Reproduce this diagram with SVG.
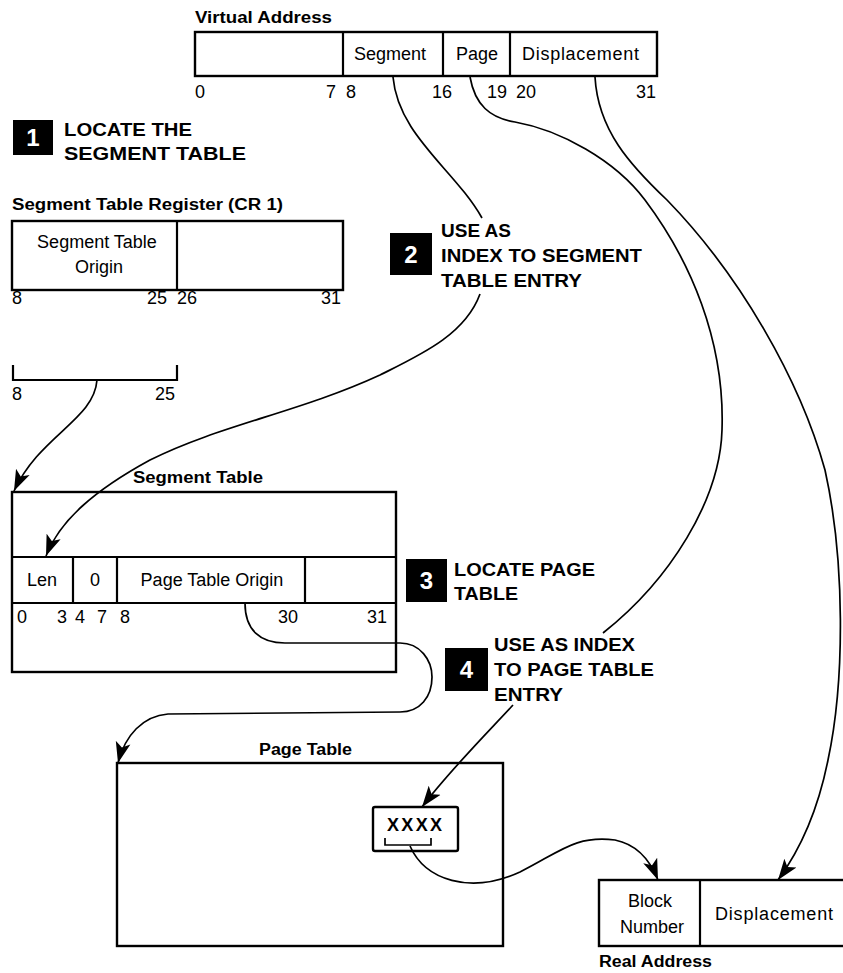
<svg xmlns="http://www.w3.org/2000/svg" width="843" height="973" viewBox="0 0 843 973">
<style>
.box{fill:#fff;stroke:#000;stroke-width:2.4}
.dv{fill:none;stroke:#000;stroke-width:2.2}
.ln{fill:none;stroke:#000;stroke-width:1.7}
.t{font-family:"Liberation Sans",Arial,sans-serif;font-size:18px;fill:#000}
.c{text-anchor:middle}
.ttl{font-family:"Liberation Sans",Arial,sans-serif;font-size:16px;font-weight:bold;fill:#000}
.st{font-family:"Liberation Sans",Arial,sans-serif;font-size:19px;font-weight:bold;fill:#000}
.num{font-family:"Liberation Sans",Arial,sans-serif;font-size:24px;font-weight:bold;fill:#fff;text-anchor:middle}
.blk{fill:#000}
</style>
<defs>
<marker id="ah" markerUnits="userSpaceOnUse" markerWidth="23" markerHeight="17" refX="21" refY="8.5" orient="auto">
<path d="M0,1 L21,8.5 L0,16 L5,8.5 z" fill="#000"/>
</marker>
</defs>

<g id="virtual-address">
<text class="ttl" x="195" y="23" textLength="137" lengthAdjust="spacingAndGlyphs">Virtual Address</text>
<rect class="box" x="195" y="32" width="462" height="44"/>
<path class="dv" d="M343 32V76M443 32V76M510 32V76"/>
<text class="t c" x="390" y="60">Segment</text>
<text class="t c" x="477" y="60">Page</text>
<text class="t" x="522" y="60" textLength="117">Displacement</text>
<text class="t" x="195" y="98">0</text>
<text class="t" x="326" y="98">7</text>
<text class="t" x="346" y="98">8</text>
<text class="t" x="432" y="98">16</text>
<text class="t" x="487" y="98">19</text>
<text class="t" x="516" y="98">20</text>
<text class="t" x="636" y="98">31</text>
</g>

<g id="step1">
<rect class="blk" x="13" y="120" width="40" height="35"/>
<text class="num" x="33" y="146">1</text>
<text class="st" x="64" y="136" textLength="128" lengthAdjust="spacingAndGlyphs">LOCATE THE</text>
<text class="st" x="64" y="160" textLength="182" lengthAdjust="spacingAndGlyphs">SEGMENT TABLE</text>
</g>

<g id="segment-table-register">
<text class="ttl" x="12" y="210" textLength="271" lengthAdjust="spacingAndGlyphs">Segment Table Register (CR 1)</text>
<rect class="box" x="12" y="221" width="331" height="69"/>
<path class="dv" d="M177 221V290"/>
<text class="t c" x="97" y="248">Segment Table</text>
<text class="t c" x="99" y="273">Origin</text>
<text class="t" x="12" y="304">8</text>
<text class="t" x="147" y="304">25</text>
<text class="t" x="177" y="304">26</text>
<text class="t" x="321" y="304">31</text>
</g>

<g id="origin-bracket">
<path class="dv" d="M13 365V380H177V365"/>
<text class="t" x="12" y="400">8</text>
<text class="t" x="155" y="400">25</text>
</g>

<g id="step2">
<rect class="blk" x="390" y="233" width="42" height="42"/>
<text class="num" x="411" y="263">2</text>
<text class="st" x="441" y="237" textLength="70" lengthAdjust="spacingAndGlyphs">USE AS</text>
<text class="st" x="441" y="262" textLength="201" lengthAdjust="spacingAndGlyphs">INDEX TO SEGMENT</text>
<text class="st" x="441" y="287" textLength="141" lengthAdjust="spacingAndGlyphs">TABLE ENTRY</text>
</g>

<g id="segment-table">
<text class="ttl" x="133" y="483" textLength="130" lengthAdjust="spacingAndGlyphs">Segment Table</text>
<rect class="box" x="12" y="492" width="384" height="180"/>
<path class="dv" d="M12 557H396M12 603H396M73 557V603M117 557V603M305 557V603"/>
<text class="t c" x="42" y="586">Len</text>
<text class="t c" x="95" y="586">0</text>
<text class="t c" x="212" y="586">Page Table Origin</text>
<text class="t" x="17" y="623">0</text>
<text class="t" x="57" y="623">3</text>
<text class="t" x="75" y="623">4</text>
<text class="t" x="97" y="623">7</text>
<text class="t" x="120" y="623">8</text>
<text class="t" x="278" y="623">30</text>
<text class="t" x="367" y="623">31</text>
</g>

<g id="step3">
<rect class="blk" x="406" y="559" width="41" height="43"/>
<text class="num" x="426.5" y="589">3</text>
<text class="st" x="454" y="576" textLength="141" lengthAdjust="spacingAndGlyphs">LOCATE PAGE</text>
<text class="st" x="454" y="600" textLength="64" lengthAdjust="spacingAndGlyphs">TABLE</text>
</g>

<g id="step4">
<rect class="blk" x="445" y="648" width="43" height="43"/>
<text class="num" x="466.5" y="678">4</text>
<text class="st" x="494" y="651" textLength="141" lengthAdjust="spacingAndGlyphs">USE AS INDEX</text>
<text class="st" x="494" y="676" textLength="160" lengthAdjust="spacingAndGlyphs">TO PAGE TABLE</text>
<text class="st" x="494" y="701" textLength="69" lengthAdjust="spacingAndGlyphs">ENTRY</text>
</g>

<g id="page-table">
<text class="ttl" x="259" y="755" textLength="93" lengthAdjust="spacingAndGlyphs">Page Table</text>
<rect class="box" x="117" y="763" width="386" height="183"/>
<rect class="box" x="373" y="807" width="85" height="44" rx="2"/>
<text class="t" x="387" y="831" font-weight="bold" textLength="55">XXXX</text>
<path class="ln" d="M385 838V845H431V838"/>
</g>

<g id="real-address">
<rect class="box" x="599" y="880" width="252" height="66"/>
<path class="dv" d="M700 880V946"/>
<text class="t c" x="650" y="907">Block</text>
<text class="t c" x="652" y="933">Number</text>
<text class="t" x="715" y="920" textLength="118">Displacement</text>
<text class="ttl" x="599" y="967" textLength="113" lengthAdjust="spacingAndGlyphs">Real Address</text>
</g>

<g id="connectors">
<path class="ln" marker-end="url(#ah)" d="M97 380C94 420 40 435 14 491"/>
<path class="ln" d="M393 77C398 135 455 170 482 218"/>
<path class="ln" marker-end="url(#ah)" d="M480 294C465 335 420 355 380 375C300 412 220 425 150 460C95 490 60 520 46 556"/>
<path class="ln" d="M470 77C475 105 490 118 515 122C560 130 615 160 645 200C690 260 725 340 722 430C720 500 670 580 603 633"/>
<path class="ln" marker-end="url(#ah)" d="M513 705C490 730 450 770 422 807"/>
<path class="ln" marker-end="url(#ah)" d="M245 603C245 630 260 643 285 643L400 643C420 643 432 660 432 677C432 697 420 712 400 712L168 714C143 716 125 735 118 763"/>
<path class="ln" marker-end="url(#ah)" d="M595 77C598 130 630 165 667 200C740 275 800 380 825 470C845 560 845 680 828 760C818 810 800 850 778 880"/>
<path class="ln" marker-end="url(#ah)" d="M410 846C425 880 470 895 520 872C560 852 575 835 615 840C640 845 652 865 658 880"/>
</g>
</svg>
